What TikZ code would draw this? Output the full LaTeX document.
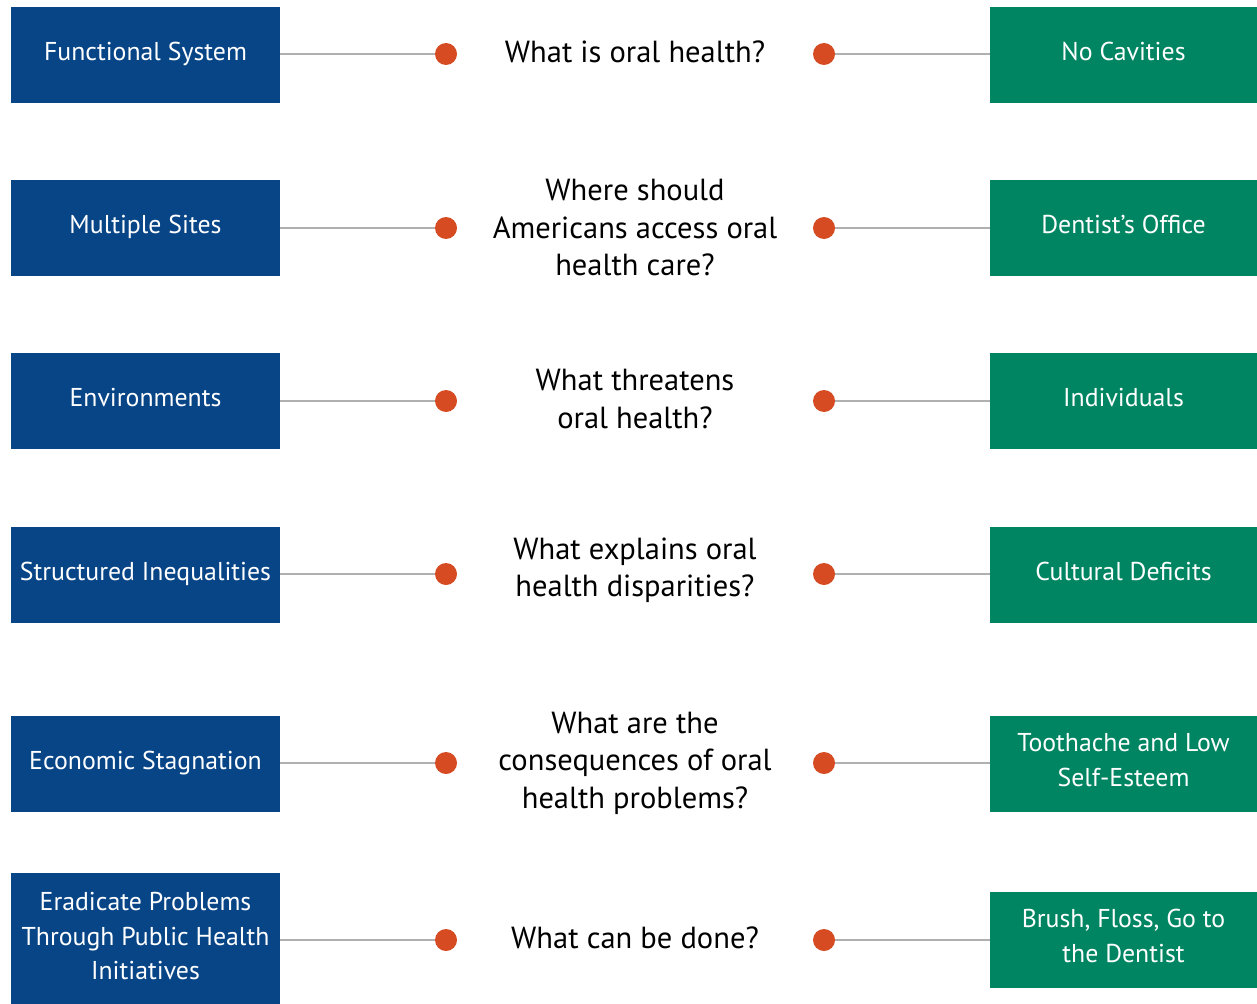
\documentclass[tikz,border=0pt]{standalone}
\usepackage{fontspec}
\setmainfont{PT Sans}
\definecolor{boxblue}{RGB}{7,69,135}
\definecolor{boxgreen}{RGB}{0,133,98}
\definecolor{dotred}{RGB}{214,75,34}
\definecolor{linegray}{RGB}{176,176,176}
\begin{document}
\begin{tikzpicture}[x=1pt,y=-1pt,
  leftbox/.style={fill=boxblue, text=white, minimum width=269pt, minimum height=96pt,
    inner sep=0pt, align=center, text depth=8pt, font=\fontsize{25.8}{34.5}\selectfont},
  rightbox/.style={leftbox, fill=boxgreen, minimum width=267pt},
  question/.style={align=center, font=\fontsize{30.5}{37.5}\selectfont},
  bullet/.style={circle, fill=dotred, minimum size=22pt, inner sep=0pt},
  link/.style={draw=linegray, line width=2pt}]
\useasboundingbox (0,0) rectangle (1257,1003);

% left column
\node[leftbox] (l1) at (145.5,55) {Functional System};
\node[leftbox] (l2) at (145.5,228) {Multiple Sites};
\node[leftbox] (l3) at (145.5,401) {Environments};
\node[leftbox] (l4) at (145.5,575) {Structured Inequalities};
\node[leftbox] (l5) at (145.5,764) {Economic Stagnation};
\node[leftbox, minimum height=134pt] (l6) at (145.5,940) {Eradicate Problems\\Through Public Health\\Initiatives};

% questions
\node[question] (q1) at (635,52) {What is oral health?};
\node[question] (q2) at (635,228) {Where should\\Americans access oral\\health care?};
\node[question] (q3) at (635,399) {What threatens\\oral health?};
\node[question] (q4) at (635,570) {What explains oral\\health disparities?};
\node[question] (q5) at (635,763) {What are the\\consequences of oral\\health problems?};
\node[question] (q6) at (635,938) {What can be done?};

% right column
\node[rightbox] (r1) at (1123.5,55) {No Cavities};
\node[rightbox] (r2) at (1123.5,228) {Dentist’s Office};
\node[rightbox] (r3) at (1123.5,401) {Individuals};
\node[rightbox] (r4) at (1123.5,575) {Cultural Deficits};
\node[rightbox] (r5) at (1123.5,764) {Toothache and Low\\Self-Esteem};
\node[rightbox] (r6) at (1123.5,940) {Brush, Floss, Go to\\the Dentist};

% dots
\node[bullet] (a1) at (446,54) {};
\node[bullet] (a2) at (446,228) {};
\node[bullet] (a3) at (446,401) {};
\node[bullet] (a4) at (446,574) {};
\node[bullet] (a5) at (446,763) {};
\node[bullet] (a6) at (446,940) {};
\node[bullet] (b1) at (824,54) {};
\node[bullet] (b2) at (824,228) {};
\node[bullet] (b3) at (824,401) {};
\node[bullet] (b4) at (824,574) {};
\node[bullet] (b5) at (824,763) {};
\node[bullet] (b6) at (824,940) {};

% connectors
\draw[link] (l1.east |- a1) -- (a1);
\draw[link] (l2.east |- a2) -- (a2);
\draw[link] (l3.east |- a3) -- (a3);
\draw[link] (l4.east |- a4) -- (a4);
\draw[link] (l5.east |- a5) -- (a5);
\draw[link] (l6.east |- a6) -- (a6);
\draw[link] (b1) -- (r1.west |- b1);
\draw[link] (b2) -- (r2.west |- b2);
\draw[link] (b3) -- (r3.west |- b3);
\draw[link] (b4) -- (r4.west |- b4);
\draw[link] (b5) -- (r5.west |- b5);
\draw[link] (b6) -- (r6.west |- b6);
\end{tikzpicture}
\end{document}
